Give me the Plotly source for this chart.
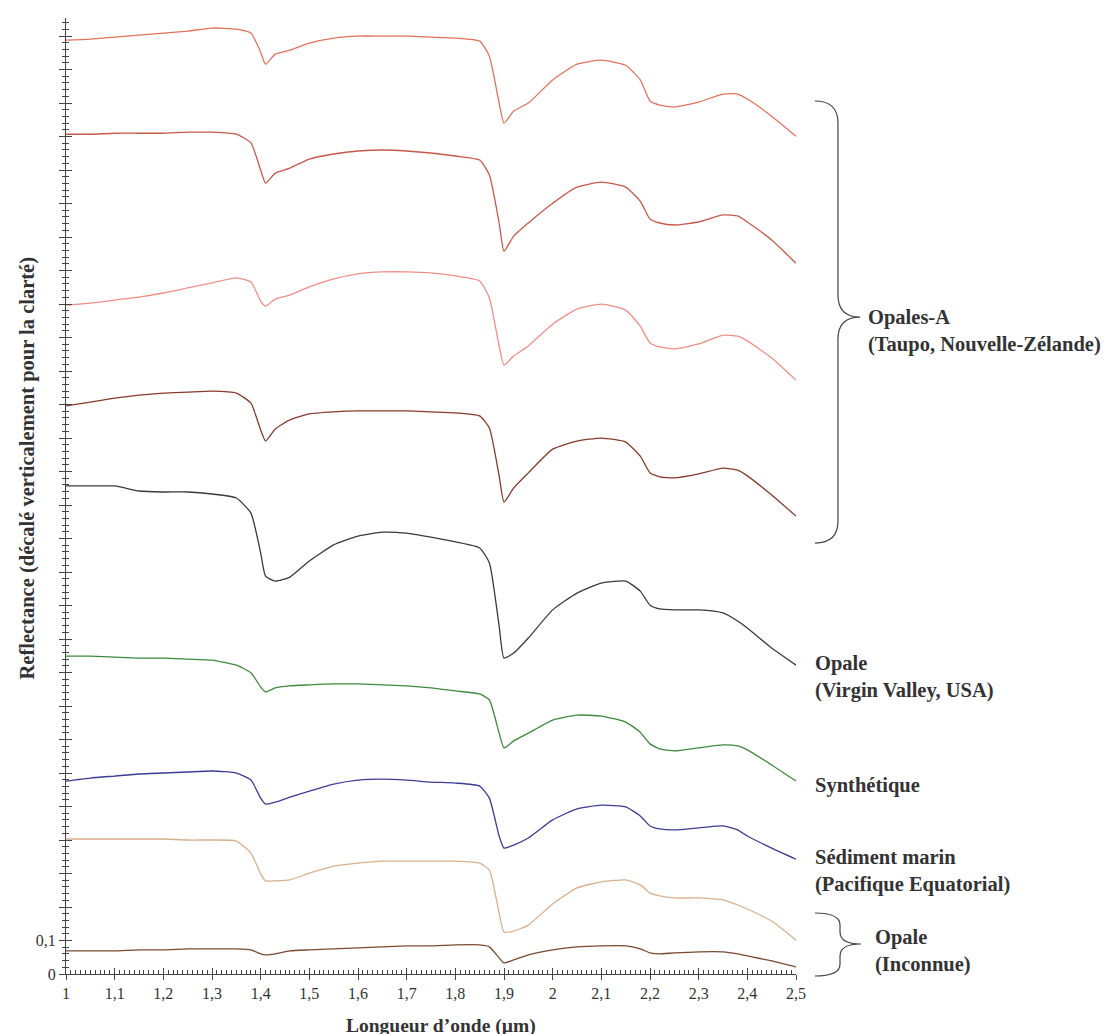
import plotly.graph_objects as go

# Wavelength grid (µm)
wavelength = [1.00, 1.05, 1.10, 1.15, 1.20, 1.25, 1.30, 1.35, 1.38, 1.40, 1.41, 1.43, 1.46, 1.50,
              1.55, 1.60, 1.65, 1.70, 1.75, 1.80, 1.85, 1.87, 1.89, 1.90, 1.92, 1.95, 2.00, 2.05,
              2.10, 2.15, 2.18, 2.20, 2.22, 2.25, 2.30, 2.35, 2.38, 2.40, 2.45, 2.50]

# Reflectance, vertically offset for clarity
opale_a1 = [2.788, 2.791, 2.797, 2.803, 2.809, 2.815, 2.824, 2.821, 2.809, 2.752, 2.716, 2.746, 2.758, 2.779,
            2.794, 2.800, 2.800, 2.800, 2.797, 2.794, 2.785, 2.740, 2.600, 2.540, 2.576, 2.600, 2.669, 2.716,
            2.728, 2.713, 2.669, 2.606, 2.594, 2.588, 2.603, 2.627, 2.627, 2.612, 2.561, 2.501]
opale_a2 = [2.507, 2.507, 2.510, 2.510, 2.510, 2.513, 2.513, 2.507, 2.481, 2.400, 2.361, 2.391, 2.406, 2.433,
            2.448, 2.457, 2.460, 2.457, 2.451, 2.442, 2.430, 2.385, 2.242, 2.158, 2.203, 2.242, 2.301, 2.349,
            2.364, 2.349, 2.307, 2.254, 2.242, 2.236, 2.245, 2.266, 2.263, 2.245, 2.191, 2.122]
opale_a3 = [1.997, 2.003, 2.012, 2.021, 2.033, 2.048, 2.063, 2.078, 2.066, 2.009, 1.994, 2.015, 2.027, 2.051,
            2.075, 2.090, 2.096, 2.096, 2.093, 2.084, 2.069, 2.018, 1.875, 1.818, 1.845, 1.875, 1.940, 1.985,
            2.000, 1.982, 1.934, 1.884, 1.872, 1.866, 1.881, 1.907, 1.904, 1.890, 1.839, 1.773]
opale_a4 = [1.696, 1.707, 1.719, 1.728, 1.734, 1.737, 1.740, 1.734, 1.704, 1.624, 1.591, 1.627, 1.654, 1.672,
            1.678, 1.681, 1.681, 1.681, 1.678, 1.675, 1.666, 1.630, 1.487, 1.409, 1.451, 1.496, 1.567, 1.591,
            1.600, 1.588, 1.546, 1.496, 1.484, 1.481, 1.493, 1.510, 1.504, 1.487, 1.430, 1.367]
opale_virgin = [1.457, 1.457, 1.457, 1.442, 1.439, 1.439, 1.433, 1.421, 1.376, 1.257, 1.188, 1.173, 1.185, 1.233,
                1.281, 1.307, 1.319, 1.316, 1.304, 1.290, 1.272, 1.227, 1.039, 0.943, 0.958, 1.003, 1.087, 1.137,
                1.167, 1.173, 1.143, 1.101, 1.090, 1.087, 1.087, 1.078, 1.054, 1.033, 0.973, 0.922]
synthetique = [0.949, 0.949, 0.946, 0.943, 0.943, 0.940, 0.937, 0.922, 0.899, 0.857, 0.842, 0.854, 0.860, 0.863,
               0.866, 0.866, 0.863, 0.860, 0.854, 0.845, 0.836, 0.818, 0.719, 0.675, 0.696, 0.719, 0.758, 0.773,
               0.770, 0.752, 0.722, 0.687, 0.672, 0.666, 0.675, 0.684, 0.681, 0.669, 0.624, 0.576]
sediment_bleu = [0.576, 0.585, 0.591, 0.597, 0.600, 0.603, 0.606, 0.600, 0.579, 0.525, 0.507, 0.513, 0.528, 0.546,
                 0.567, 0.579, 0.582, 0.579, 0.573, 0.570, 0.561, 0.525, 0.412, 0.376, 0.385, 0.406, 0.460, 0.493,
                 0.504, 0.499, 0.472, 0.442, 0.433, 0.430, 0.436, 0.442, 0.430, 0.412, 0.376, 0.343]
sediment_marin = [0.403, 0.403, 0.403, 0.403, 0.403, 0.400, 0.400, 0.397, 0.361, 0.299, 0.278, 0.278, 0.281, 0.301,
                  0.322, 0.331, 0.337, 0.337, 0.337, 0.337, 0.331, 0.310, 0.182, 0.125, 0.128, 0.146, 0.209, 0.257,
                  0.275, 0.281, 0.266, 0.242, 0.233, 0.227, 0.227, 0.221, 0.206, 0.194, 0.158, 0.101]
opale_inconnue = [0.069, 0.069, 0.069, 0.072, 0.072, 0.075, 0.075, 0.075, 0.072, 0.060, 0.057, 0.060, 0.069, 0.072,
                  0.075, 0.078, 0.081, 0.084, 0.084, 0.087, 0.087, 0.081, 0.048, 0.033, 0.042, 0.057, 0.072, 0.081,
                  0.084, 0.084, 0.075, 0.063, 0.060, 0.063, 0.066, 0.066, 0.060, 0.054, 0.039, 0.021]

series = [opale_a1, opale_a2, opale_a3, opale_a4, opale_virgin, synthetique, sediment_bleu, sediment_marin, opale_inconnue]
colors = ["#e2735c", "#c65a4a", "#ef8f88", "#8a3a2c", "#3a3a3a", "#3f8a3f", "#3c3c96", "#d9b08c", "#7a4a30"]

x_tickvals = [round(1 + 0.1 * i, 1) for i in range(16)]
x_ticktext = [("%g" % v).replace(".", ",") for v in x_tickvals]
y_tickvals = [round(0.1 * i, 1) for i in range(29)]
y_ticktext = ["0", "0,1"] + [""] * 27

W, H = 1113, 1034
L, R, T, B = 58, 325, 10, 68
YMAX = 2.854

fig = go.Figure()
for s, c in zip(series, colors):
    fig.add_trace(go.Scatter(x=wavelength, y=s, mode="lines",
                             line=dict(color=c, width=1.3, shape="spline", smoothing=0.5),
                             showlegend=False, hoverinfo="skip"))
# dummy trace to activate overlay axes (inside ticks)
fig.add_trace(go.Scatter(x=[1.0], y=[0.0], mode="markers", marker=dict(opacity=0),
                         xaxis="x2", yaxis="y2", showlegend=False, hoverinfo="skip"))

tickfont = dict(family="Liberation Serif", size=16, color="#333")
fig.update_layout(
    width=W, height=H, margin=dict(l=L, r=R, t=T, b=B),
    paper_bgcolor="white", plot_bgcolor="white",
    xaxis=dict(range=[1, 2.5], tickmode="array", tickvals=x_tickvals, ticktext=x_ticktext,
               ticks="outside", ticklen=5, tickwidth=1, tickcolor="#444",
               showline=True, linecolor="#444", linewidth=1, showgrid=False, zeroline=False,
               tickfont=tickfont),
    xaxis2=dict(range=[1, 2.5], overlaying="x", anchor="y", side="bottom",
                tickmode="array", tickvals=x_tickvals, ticks="inside", ticklen=6, tickwidth=1,
                tickcolor="#444", showticklabels=False, showline=False, showgrid=False, zeroline=False,
                minor=dict(ticks="inside", tickmode="linear", tick0=1, dtick=0.01, ticklen=4,
                           tickwidth=1, tickcolor="#444", showgrid=False)),
    yaxis=dict(range=[0, YMAX], tickmode="array", tickvals=y_tickvals, ticktext=y_ticktext,
               ticks="outside", ticklen=6, tickwidth=1, tickcolor="#444",
               showline=True, linecolor="#444", linewidth=1, showgrid=False, zeroline=False,
               tickfont=tickfont,
               minor=dict(ticks="outside", tickmode="linear", tick0=0, dtick=0.02, ticklen=3,
                          tickwidth=1, tickcolor="#444", showgrid=False)),
    yaxis2=dict(range=[0, YMAX], overlaying="y", anchor="x", side="left",
                tickmode="array", tickvals=y_tickvals, ticks="inside", ticklen=6, tickwidth=1,
                tickcolor="#444", showticklabels=False, showline=False, showgrid=False, zeroline=False,
                minor=dict(ticks="inside", tickmode="linear", tick0=0, dtick=0.02, ticklen=3,
                           tickwidth=1, tickcolor="#444", showgrid=False)),
)

PW, PH = W - L - R, H - T - B


def px(xp):
    return (xp - L) / PW


def py(yp):
    return (H - B - yp) / PH


def brace(x0, xv, xt, ytop, ytip, ybot, r=18):
    p = []
    p.append("M %.4f,%.4f" % (px(x0), py(ytop)))
    p.append("Q %.4f,%.4f %.4f,%.4f" % (px(xv), py(ytop), px(xv), py(ytop + r)))
    p.append("L %.4f,%.4f" % (px(xv), py(ytip - r)))
    p.append("Q %.4f,%.4f %.4f,%.4f" % (px(xv), py(ytip), px(xt), py(ytip)))
    p.append("Q %.4f,%.4f %.4f,%.4f" % (px(xv), py(ytip), px(xv), py(ytip + r)))
    p.append("L %.4f,%.4f" % (px(xv), py(ybot - r)))
    p.append("Q %.4f,%.4f %.4f,%.4f" % (px(xv), py(ybot), px(x0), py(ybot)))
    return " ".join(p)


fig.add_shape(type="path", xref="paper", yref="paper",
              path=brace(807, 830, 852, 93, 309, 535, r=22),
              line=dict(color="#444", width=1.2))
fig.add_shape(type="path", xref="paper", yref="paper",
              path=brace(807, 832, 853, 905, 936, 968, r=12),
              line=dict(color="#444", width=1.2))

lab_font = dict(family="Liberation Serif", size=20.5, color="#333")


def label(text, xp, yp):
    fig.add_annotation(text=text, xref="paper", yref="paper", x=px(xp), y=py(yp),
                       xanchor="left", yanchor="middle", align="left", showarrow=False,
                       font=lab_font)


label("<b>Opales-A<br>(Taupo, Nouvelle-Zélande)</b>", 858, 323)
label("<b>Opale<br>(Virgin Valley, USA)</b>", 805, 669)
label("<b>Synthétique</b>", 805, 777)
label("<b>Sédiment marin<br>(Pacifique Equatorial)</b>", 805, 863)
label("<b>Opale<br>(Inconnue)</b>", 865, 943)

fig.add_annotation(text="<b>Longueur d’onde (µm)</b>", xref="paper", yref="paper",
                   x=px(433), y=py(1018), xanchor="center", yanchor="middle", showarrow=False,
                   font=dict(family="Liberation Serif", size=19.5, color="#333"))
fig.add_annotation(text="<b>Reflectance (décalé verticalement pour la clarté)</b>", xref="paper", yref="paper",
                   x=px(18.5), y=py(460), xanchor="center", yanchor="middle", showarrow=False,
                   textangle=-90, font=dict(family="Liberation Serif", size=20.5, color="#333"))

fig.write_html("out.html")
